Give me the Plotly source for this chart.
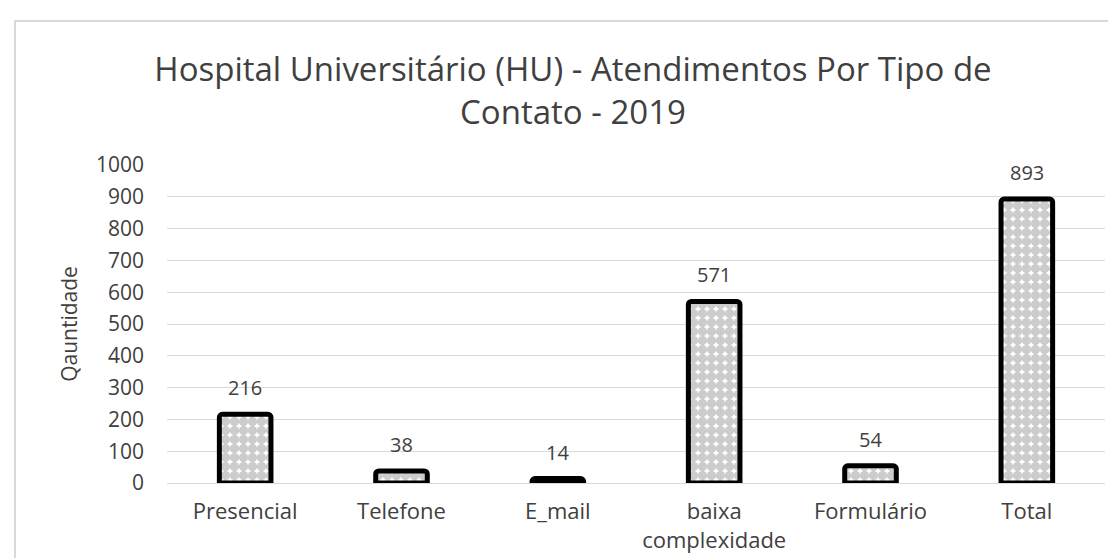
import plotly.graph_objects as go

categories = ["Presencial", "Telefone", "E_mail", "baixa<br>complexidade", "Formulário", "Total"]
values = [216, 38, 14, 571, 54, 893]
y_ticks = [0, 100, 200, 300, 400, 500, 600, 700, 800, 900, 1000]

FONT = "Open Sans"
TXT = "#404040"
W, H = 1116, 558
L, R, T, B = 159, 19, 157, 83

fig = go.Figure()
fig.add_trace(go.Bar(
    x=categories,
    y=values,
    width=0.33,
    marker=dict(
        color="white",
        line=dict(color="black", width=5),
        pattern=dict(shape=".", fgcolor="#9a9a9a", bgcolor="white", size=9, solidity=0.8),
        cornerradius=3,
    ),
    hoverinfo="skip",
))

for c, v in zip(categories, values):
    fig.add_annotation(x=c, y=v, text=str(v), showarrow=False,
                       yanchor="bottom", yshift=11,
                       font=dict(family=FONT, size=20, color=TXT))

pw = W - L - R
ph = H - T - B
def px_x(p):
    return (p - L) / pw
def px_y(p):
    return (H - B - p) / ph

fig.add_shape(type="rect", xref="paper", yref="paper",
              x0=px_x(7), x1=px_x(1130), y0=px_y(600), y1=px_y(13),
              line=dict(color="#d9d9d9", width=2), fillcolor="rgba(0,0,0,0)", layer="below")

fig.update_layout(
    width=W, height=H,
    margin=dict(l=L, r=R, t=T, b=B, autoexpand=False),
    paper_bgcolor="white", plot_bgcolor="white",
    showlegend=False,
    title=dict(
        text="Hospital Universitário (HU) - Atendimentos Por Tipo de<br>Contato - 2019",
        x=565 / W, xref="container", xanchor="center",
        y=1 - 73 / H, yref="container", yanchor="middle",
        font=dict(family=FONT, size=33, color=TXT),
    ),
    font=dict(family=FONT, color=TXT),
)
fig.update_xaxes(
    tickfont=dict(family=FONT, size=22, color=TXT),
    showgrid=False, showline=False, ticks="", ticklabelstandoff=13,
)
fig.update_yaxes(
    range=[0, 1000], tickvals=y_ticks, ticktext=[str(t) for t in y_ticks],
    tickfont=dict(family=FONT, size=21, color=TXT),
    showgrid=True, gridcolor="#d9d9d9", gridwidth=1,
    zeroline=True, zerolinecolor="#d9d9d9", zerolinewidth=1,
    showline=False, ticks="", ticklabelstandoff=22,
    title=dict(text="Qauntidade", font=dict(family=FONT, size=21, color=TXT), standoff=12),
)

fig.write_html("out.html")
